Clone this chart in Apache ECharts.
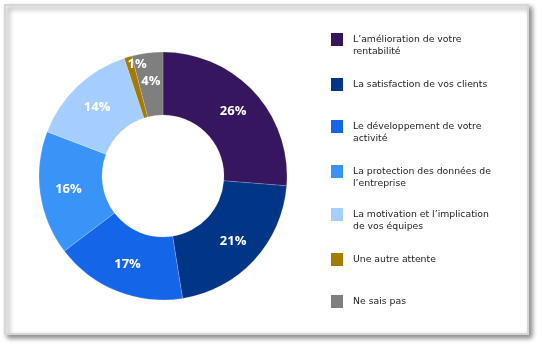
<!DOCTYPE html>
<html><head><meta charset="utf-8">
<script src="https://cdn.jsdelivr.net/npm/echarts@6/dist/echarts.min.js"></script>
<style>html,body{margin:0;padding:0;background:#fff}#c{width:542px;height:348px}</style>
</head><body><div id="c"></div>
<script>
const categories = [
  "L’amélioration de votre rentabilité",
  "La satisfaction de vos clients",
  "Le développement de votre activité",
  "La protection des données de l’entreprise",
  "La motivation et l’implication de vos équipes",
  "Une autre attente",
  "Ne sais pas"
];
const legendLines = [
  ["L’amélioration de votre", "rentabilité"],
  ["La satisfaction de vos clients"],
  ["Le développement de votre", "activité"],
  ["La protection des données de", "l’entreprise"],
  ["La motivation et l’implication", "de vos équipes"],
  ["Une autre attente"],
  ["Ne sais pas"]
];
const values = [26, 21, 17, 16, 14, 1, 4];
const colors = ['#36175f', '#013586', '#1565e9', '#3a93f6', '#a5cdfd', '#a47a00', '#7f7f7f'];

const chart = echarts.init(document.getElementById('c'), null, {renderer: 'canvas'});
const LH = 12.5;
const IH = 13;
const markerTops = [33, 78, 120, 165, 208, 253, 295];
const legends = categories.map((name, i) => {
  const lines = legendLines[i];
  const twoLine = lines.length > 1;
  const padTop = twoLine ? 0 : 6;
  const blockH = twoLine ? LH * 3 : LH + padTop;
  const offset = Math.min(0, IH / 2 - blockH / 2);
  return {
    orient: 'vertical',
    left: 331,
    top: markerTops[i] + offset,
    padding: 0,
    itemWidth: 12,
    itemHeight: IH,
    itemGap: 0,
    icon: 'rect',
    selectedMode: false,
    data: [name],
    formatter: () => twoLine ? '\n' + lines.join('\n') : lines[0],
    textStyle: {
      fontFamily: 'DejaVu Sans',
      fontSize: 9.3,
      lineHeight: LH,
      color: '#222222',
      padding: [padTop, 0, 0, 5]
    },
    itemStyle: {borderWidth: 0}
  };
});

chart.setOption({
  animation: false,
  backgroundColor: '#ffffff',
  color: colors,
  graphic: [{
    type: 'rect',
    z: -10,
    shape: {x: 5, y: 5, width: 523, height: 329},
    style: {
      fill: '#ffffff',
      stroke: '#d6d6d6',
      lineWidth: 2,
      shadowBlur: 5,
      shadowOffsetX: 3,
      shadowOffsetY: 3,
      shadowColor: 'rgba(0,0,0,0.45)'
    },
    silent: true
  }],
  legend: legends,
  series: [{
    type: 'pie',
    center: [163, 176],
    radius: [61, 124],
    startAngle: 90,
    clockwise: true,
    avoidLabelOverlap: false,
    itemStyle: {borderColor: 'rgba(255,255,255,0.35)', borderWidth: 0.5},
    label: {
      show: true,
      position: 'inside',
      formatter: p => p.value + '%',
      color: '#ffffff',
      fontFamily: 'Open Sans',
      fontWeight: 'bold',
      fontSize: 13
    },
    labelLine: {show: false},
    labelLayout: p => p.dataIndex === 5 ? {dx: 1, dy: -20} : {},
    emphasis: {disabled: true},
    data: categories.map((n, i) => ({name: n, value: values[i]}))
  }]
});
</script></body></html>
